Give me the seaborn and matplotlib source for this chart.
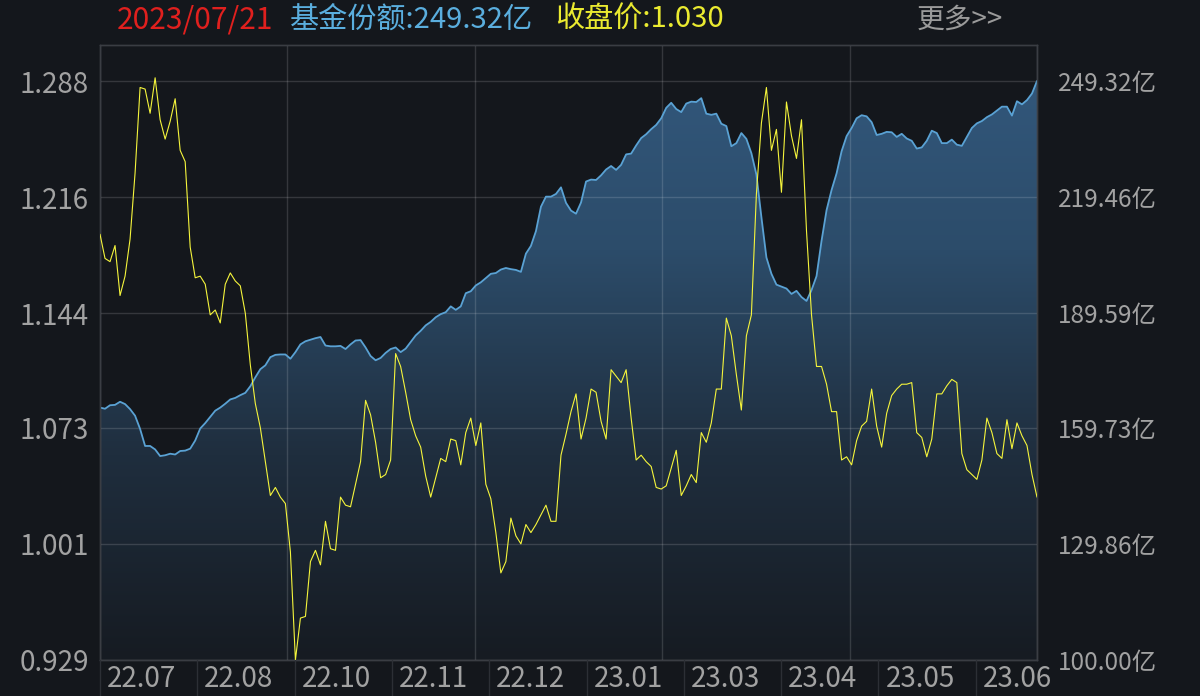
"""
plot.py
-------
Fund share (area, right axis) vs. closing price (line, left axis),
dark quote-terminal style. Saves out.png.
"""

import matplotlib
matplotlib.use("Agg")  # headless backend, no display needed
import matplotlib.pyplot as plt
from matplotlib.colors import LinearSegmentedColormap
from matplotlib.lines import Line2D
import numpy as np
import pandas as pd
import seaborn as sns

# ---- data -----------------------------------------------------------------
close_price = [
    1.193, 1.178, 1.176, 1.186, 1.155, 1.167, 1.190, 1.231, 1.284, 1.283,
    1.268, 1.290, 1.264, 1.252, 1.263, 1.277, 1.245, 1.238, 1.185, 1.166,
    1.167, 1.162, 1.143, 1.146, 1.138, 1.162, 1.169, 1.164, 1.161, 1.144,
    1.112, 1.088, 1.073, 1.052, 1.031, 1.036, 1.030, 1.026, 0.996, 0.929,
    0.955, 0.956, 0.990, 0.997, 0.988, 1.015, 0.998, 0.997, 1.030, 1.025,
    1.024, 1.038, 1.052, 1.090, 1.081, 1.064, 1.042, 1.044, 1.053, 1.119,
    1.111, 1.095, 1.078, 1.068, 1.061, 1.043, 1.030, 1.042, 1.054, 1.052,
    1.066, 1.065, 1.050, 1.070, 1.079, 1.062, 1.076, 1.038, 1.029, 1.008,
    0.983, 0.990, 1.017, 1.006, 1.001, 1.013, 1.008, 1.013, 1.019, 1.025,
    1.015, 1.015, 1.056, 1.069, 1.083, 1.094, 1.066, 1.079, 1.097, 1.095,
    1.077, 1.066, 1.109, 1.105, 1.101, 1.109, 1.079, 1.053, 1.056, 1.052,
    1.049, 1.036, 1.035, 1.037, 1.048, 1.059, 1.031, 1.037, 1.044, 1.039,
    1.070, 1.064, 1.076, 1.097, 1.097, 1.141, 1.130, 1.106, 1.084, 1.130,
    1.143, 1.218, 1.262, 1.284, 1.245, 1.258, 1.219, 1.275, 1.254, 1.240,
    1.264, 1.195, 1.143, 1.111, 1.111, 1.100, 1.083, 1.083, 1.053, 1.055,
    1.050, 1.065, 1.074, 1.077, 1.097, 1.074, 1.061, 1.082, 1.093, 1.097,
    1.100, 1.100, 1.101, 1.070, 1.067, 1.055, 1.066, 1.094, 1.094, 1.099,
    1.103, 1.101, 1.057, 1.047, 1.044, 1.041, 1.053, 1.079, 1.070, 1.057,
    1.054, 1.078, 1.060, 1.076, 1.068, 1.062, 1.044, 1.030,
]

# fund share, in 亿 units
fund_share = [
    165.1, 164.8, 165.7, 165.8, 166.6, 166.0, 164.7, 163.0, 159.6, 155.2,
    155.2, 154.3, 152.6, 152.8, 153.2, 153.0, 153.9, 154.0, 154.5, 156.6,
    159.7, 161.1, 162.7, 164.3, 165.1, 166.1, 167.2, 167.6, 168.3, 168.9,
    170.6, 172.9, 175.0, 176.0, 178.1, 178.7, 178.8, 178.8, 177.7, 179.4,
    181.4, 182.2, 182.6, 183.0, 183.3, 181.1, 180.9, 180.9, 181.0, 180.2,
    181.4, 182.4, 182.5, 180.6, 178.4, 177.3, 177.9, 179.2, 180.2, 180.6,
    179.4, 180.3, 182.0, 183.7, 184.9, 186.3, 187.2, 188.4, 189.2, 189.7,
    191.2, 190.3, 191.2, 194.6, 195.1, 196.6, 197.4, 198.5, 199.6, 199.8,
    200.7, 201.1, 200.8, 200.6, 200.1, 204.8, 206.8, 210.6, 216.9, 219.5,
    219.5, 220.2, 221.9, 217.9, 215.9, 215.1, 218.0, 223.4, 223.9, 223.8,
    225.0, 226.5, 227.4, 226.4, 227.7, 230.4, 230.6, 232.7, 234.6, 235.6,
    236.9, 238.0, 239.7, 242.4, 243.7, 242.1, 241.3, 243.5, 244.0, 243.9,
    244.9, 240.9, 240.6, 240.9, 238.3, 237.7, 232.5, 233.3, 235.9, 234.4,
    230.7, 225.2, 214.2, 203.8, 199.6, 196.8, 196.3, 195.8, 194.4, 195.2,
    193.6, 192.6, 195.4, 199.0, 208.1, 216.0, 221.2, 225.5, 231.2, 235.1,
    237.2, 239.7, 240.5, 240.2, 238.7, 235.4, 235.7, 236.2, 236.1, 234.9,
    235.7, 234.5, 233.9, 231.9, 232.2, 233.9, 236.5, 235.9, 233.3, 233.3,
    234.2, 232.9, 232.6, 234.9, 237.2, 238.4, 239.0, 240.0, 240.7, 241.7,
    242.7, 242.7, 240.4, 244.1, 243.3, 244.4, 246.1, 249.32,
]

month_labels = ["22.07", "22.08", "22.10", "22.11", "22.12",
                "23.01", "23.03", "23.04", "23.05", "23.06"]
price_ticks = ["0.929", "1.001", "1.073", "1.144", "1.216", "1.288"]
share_ticks = ["100.00亿", "129.86亿", "159.73亿", "189.59亿", "219.46亿", "249.32亿"]

header_date = "2023/07/21"
header_share = "基金份额:249.32亿"
header_price = "收盘价:1.030"
header_more = "更多>>"

# ---- style ------------------------------------------------------------------
BG = "#14171c"
FRAME = "#3a3d43"
TEXT = "#a2a2a2"
SHARE_LINE = "#5aa2d4"
PRICE_LINE = "#f5f53c"

W, H = 1200, 696
PLOT_L, PLOT_R, PLOT_T, PLOT_B = 100, 1037, 45, 660
TOP_PAD = 0.311  # fraction of a tick step above the last tick


def axis_limits(ticks):
    step = (ticks[-1] - ticks[0]) / (len(ticks) - 1)
    return ticks[0], ticks[-1] + TOP_PAD * step


def draw_chart(df, save_path):
    sns.set_theme(style="dark", rc={"axes.facecolor": BG, "figure.facecolor": BG})
    plt.rcParams["font.family"] = ["Noto Sans CJK SC", "DejaVu Sans"]

    fig = plt.figure(figsize=(W / 100, H / 100), dpi=100)
    ax = fig.add_axes([PLOT_L / W, 1 - PLOT_B / H,
                       (PLOT_R - PLOT_L) / W, (PLOT_B - PLOT_T) / H])
    ax2 = ax.twinx()
    n = len(df)

    share_pos = [float(t[:-1]) for t in share_ticks]
    price_pos = [float(t) for t in price_ticks]
    s_lo, s_hi = axis_limits(share_pos)
    p_lo, p_hi = axis_limits(price_pos)

    # gradient area under the share line
    poly = ax.fill_between(df["day"], df["share"], s_lo,
                           facecolor="none", edgecolor="none")
    grad = np.linspace(0, 1, 256).reshape(-1, 1)
    cmap = LinearSegmentedColormap.from_list(
        "area", ["#161b22", "#1f2e3e", "#2c4c6a", "#33597e"])
    img = ax.imshow(grad, extent=[0, n - 1, s_lo, s_hi], origin="lower",
                    aspect="auto", cmap=cmap, zorder=1)
    img.set_clip_path(poly.get_paths()[0], transform=ax.transData)

    sns.lineplot(data=df, x="day", y="share", ax=ax, color=SHARE_LINE,
                 linewidth=1.3, zorder=3)
    sns.lineplot(data=df, x="day", y="price", ax=ax2, color=PRICE_LINE,
                 linewidth=0.8, zorder=4)

    ax.set_xlim(0, n - 1)
    ax.set_ylim(s_lo, s_hi)
    ax2.set_ylim(p_lo, p_hi)

    # grid from the share axis, drawn over the area
    ax.set_axisbelow(False)
    ax.set_xticks(np.linspace(0, n - 1, 6))
    ax.set_yticks(share_pos)
    ax.set_yticklabels(share_ticks)
    ax.grid(True, color="white", alpha=0.14, linewidth=1)
    ax2.grid(False)
    ax2.set_yticks(price_pos)
    ax2.set_yticklabels(price_ticks)

    ax.yaxis.tick_right()
    ax2.yaxis.tick_left()
    ax.tick_params(axis="x", length=0, labelbottom=False)
    ax.tick_params(axis="y", length=0, pad=15, labelsize=17.5, labelcolor=TEXT)
    ax2.tick_params(axis="y", length=0, pad=8, labelsize=20, labelcolor=TEXT)
    for a in (ax, ax2):
        a.set_xlabel("")
        a.set_ylabel("")
        for sp in a.spines.values():
            sp.set_color(FRAME)
            sp.set_linewidth(1)

    # month strip under the plot
    cell = 97.3
    for i, lab in enumerate(month_labels):
        left = PLOT_L + i * cell
        fig.add_artist(Line2D([left / W, left / W], [0, 1 - PLOT_B / H],
                              color="#2c2f35", linewidth=1))
        fig.text((left + 7) / W, 1 - 679 / H, lab, color=TEXT, fontsize=20,
                 va="center", ha="left")

    # header line
    y_head = 1 - 20 / H
    fig.text(117 / W, y_head, header_date, color="#e0201e", fontsize=21.5, va="center")
    fig.text(290 / W, y_head, header_share, color="#5aaede", fontsize=21, va="center")
    fig.text(555 / W, y_head, header_price, color="#eaea30", fontsize=21, va="center")
    fig.text(917 / W, y_head, header_more, color="#9a9a9a", fontsize=20, va="center")

    fig.savefig(save_path, dpi=100, facecolor=BG)
    plt.close(fig)


def main():
    df = pd.DataFrame({
        "day": np.arange(len(close_price)),
        "price": close_price,
        "share": fund_share,
    })
    draw_chart(df, "out.png")


if __name__ == "__main__":
    main()
